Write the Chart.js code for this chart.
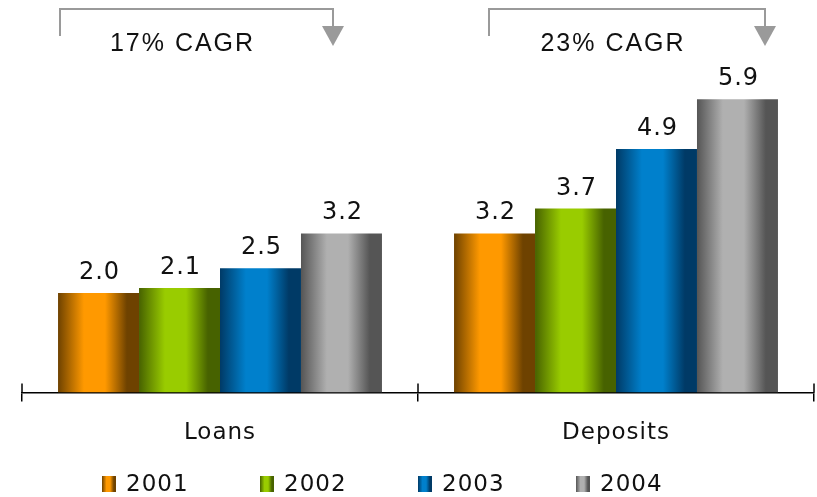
<!DOCTYPE html>
<html>
<head>
<meta charset="utf-8">
<script src="https://cdn.jsdelivr.net/npm/chart.js@4"></script>
<style>
  html, body { margin: 0; padding: 0; background: #fff; }
  #wrap { width: 817px; height: 497px; }
</style>
</head>
<body>
<div id="wrap"><canvas id="chart" width="817" height="497"></canvas></div>
<script>
const categories = ['Loans', 'Deposits'];
const years = ['2001', '2002', '2003', '2004'];
const values2001 = [2.0, 3.2];
const values2002 = [2.1, 3.7];
const values2003 = [2.5, 4.9];
const values2004 = [3.2, 5.9];
const cagrLabels = ['17% CAGR', '23% CAGR'];

// edge / centre colours for the shaded bars
const edgeColors = ['#6e4200', '#476200', '#003a66', '#555555'];
const midColors = ['#ff9900', '#99cc00', '#0080cc', '#b0b0b0'];

// bracket positions (left x, arrow x) for each CAGR note
const brackets = [[60, 333], [489, 765]];

function shade(ctx, left, width, i) {
    const g = ctx.createLinearGradient(left, 0, left + width, 0);
    g.addColorStop(0, edgeColors[i]);
    g.addColorStop(0.32, midColors[i]);
    g.addColorStop(0.58, midColors[i]);
    g.addColorStop(0.85, edgeColors[i]);
    g.addColorStop(1, edgeColors[i]);
    return g;
}

const spacing = {
    id: 'spacing',
    beforeUpdate(chart) { chart.ctx.letterSpacing = '1px'; },
    beforeDraw(chart) { chart.ctx.letterSpacing = '1px'; }
};

const barShading = {
    id: 'barShading',
    beforeDatasetsDraw(chart) {
        chart.data.datasets.forEach((ds, i) => {
            chart.getDatasetMeta(i).data.forEach(el => {
                const left = el.x - el.width / 2;
                el.options = Object.assign({}, el.options, {
                    backgroundColor: shade(chart.ctx, left, el.width, i)
                });
            });
        });
    }
};

const valueLabels = {
    id: 'valueLabels',
    afterDatasetsDraw(chart) {
        const ctx = chart.ctx;
        ctx.save();
        ctx.letterSpacing = '1px';
        ctx.font = '24px "DejaVu Sans"';
        ctx.fillStyle = '#111';
        ctx.textAlign = 'center';
        ctx.textBaseline = 'alphabetic';
        chart.data.datasets.forEach((ds, i) => {
            chart.getDatasetMeta(i).data.forEach((el, j) => {
                ctx.fillText(ds.data[j].toFixed(1), el.x + 1, el.y - 14);
            });
        });
        ctx.restore();
    }
};

const axisTicks = {
    id: 'axisTicks',
    afterDraw(chart) {
        const ctx = chart.ctx;
        const x = chart.scales.x;
        const y = chart.chartArea.bottom;
        ctx.save();
        ctx.strokeStyle = '#000';
        ctx.lineWidth = 1.5;
        for (let k = 0; k <= categories.length; k++) {
            const px = x.left + k * (x.width / categories.length);
            ctx.beginPath();
            ctx.moveTo(px, y - 9);
            ctx.lineTo(px, y);
            ctx.stroke();
        }
        ctx.restore();
    }
};

const cagrNotes = {
    id: 'cagrNotes',
    afterDraw(chart) {
        const ctx = chart.ctx;
        ctx.save();
        ctx.lineWidth = 2;
        brackets.forEach(([l, r], k) => {
            ctx.strokeStyle = '#9a9a9a';
            ctx.fillStyle = '#9a9a9a';
            ctx.beginPath();
            ctx.moveTo(l, 36);
            ctx.lineTo(l, 9);
            ctx.lineTo(r, 9);
            ctx.lineTo(r, 28);
            ctx.stroke();
            ctx.beginPath();
            ctx.moveTo(r - 11, 26);
            ctx.lineTo(r + 11, 26);
            ctx.lineTo(r, 46);
            ctx.closePath();
            ctx.fill();
            ctx.fillStyle = '#111';
            ctx.letterSpacing = '2px';
            ctx.font = '25px "Liberation Sans"';
            ctx.textAlign = 'center';
            ctx.textBaseline = 'alphabetic';
            ctx.fillText(cagrLabels[k], (l + r) / 2 - 14, 51);
        });
        ctx.restore();
    }
};

const bottomLegend = {
    id: 'bottomLegend',
    afterDraw(chart) {
        const ctx = chart.ctx;
        ctx.save();
        ctx.letterSpacing = '1px';
        ctx.font = '23px "DejaVu Sans"';
        ctx.textBaseline = 'middle';
        ctx.textAlign = 'left';
        chart.data.datasets.forEach((ds, i) => {
            const bx = 102 + i * 158;
            ctx.fillStyle = shade(ctx, bx, 14, i);
            ctx.fillRect(bx, 476, 14, 16);
            ctx.fillStyle = '#111';
            ctx.fillText(ds.label, bx + 24, 485);
        });
        ctx.restore();
    }
};

const seriesValues = [values2001, values2002, values2003, values2004];

new Chart(document.getElementById('chart'), {
    type: 'bar',
    data: {
        labels: categories,
        datasets: years.map((yr, i) => ({
            label: yr,
            data: seriesValues[i],
            backgroundColor: midColors[i],
            borderWidth: 0,
            barPercentage: 1,
            categoryPercentage: 0.818
        }))
    },
    options: {
        responsive: false,
        animation: false,
        layout: { padding: { left: 22, right: 3, top: 0, bottom: 32 } },
        plugins: {
            legend: { display: false },
            tooltip: { enabled: false }
        },
        scales: {
            x: {
                grid: {
                    display: true,
                    offset: true,
                    drawOnChartArea: false,
                    drawTicks: true,
                    tickLength: 9,
                    color: '#000',
                    lineWidth: 1.5
                },
                border: { display: true, color: '#000', width: 1.5 },
                ticks: {
                    color: '#111',
                    padding: 18,
                    font: { family: '"DejaVu Sans"', size: 23 }
                }
            },
            y: {
                display: false,
                min: 0,
                max: 7.9
            }
        }
    },
    plugins: [spacing, barShading, valueLabels, axisTicks, cagrNotes, bottomLegend]
});
</script>
</body>
</html>
